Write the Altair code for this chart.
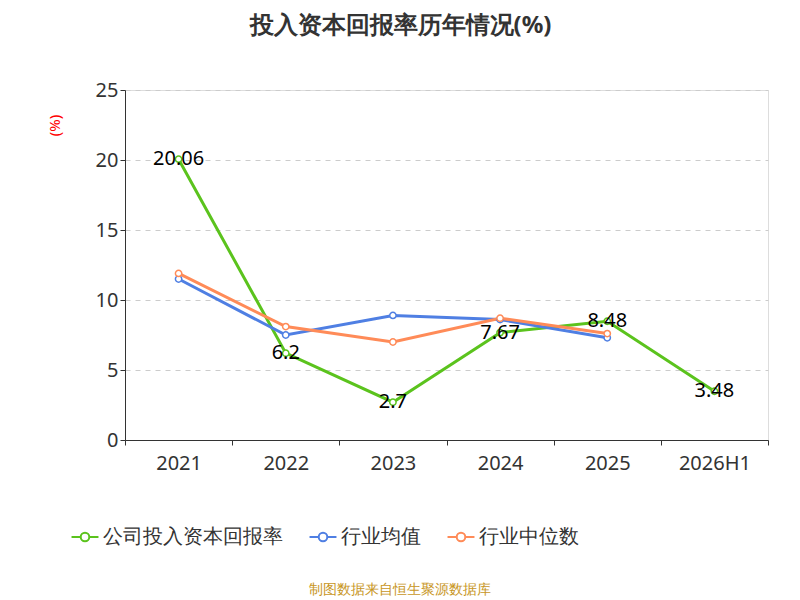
import altair as alt
import pandas as pd

years = ["2021", "2022", "2023", "2024", "2025", "2026H1"]
company = [20.06, 6.2, 2.7, 7.67, 8.48, 3.48]
industry_avg = [11.5, 7.5, 8.9, 8.6, 7.3]
industry_median = [11.9, 8.1, 7.0, 8.7, 7.6]
series_names = ["公司投入资本回报率", "行业均值", "行业中位数"]
colors = ["#5bc31d", "#4f7fe3", "#ff8b58"]

rows = []
for y, v in zip(years, company):
    rows.append({"year": y, "value": v, "series": series_names[0]})
for y, v in zip(years, industry_avg):
    rows.append({"year": y, "value": v, "series": series_names[1]})
for y, v in zip(years, industry_median):
    rows.append({"year": y, "value": v, "series": series_names[2]})
df = pd.DataFrame(rows)

legend_sym = "M-2.2,0L-0.7,0M0.7,0L2.2,0M0.7,0A0.7,0.7 0 1 1 -0.7,0A0.7,0.7 0 1 1 0.7,0"

x = alt.X("year:N", sort=years, title=None,
          scale=alt.Scale(type="band", paddingInner=0, paddingOuter=0),
          axis=alt.Axis(labelFontSize=20, labelColor="#333", labelAngle=0, tickBand="extent",
                        domainColor="#333", tickColor="#333", labelPadding=8))
y = alt.Y("value:Q", title="(%)",
          scale=alt.Scale(domain=[0, 25], nice=False),
          axis=alt.Axis(values=[0, 5, 10, 15, 20, 25], labelFontSize=20, labelColor="#333",
                        gridDash=[5, 5], gridColor="#ccc", domainColor="#333", tickColor="#333",
                        titleColor="red", titleFontSize=15, titleFontWeight="normal",
                        titleX=-63, titleY=35))
color = alt.Color("series:N", sort=series_names,
                  scale=alt.Scale(domain=series_names, range=colors),
                  legend=alt.Legend(orient="none", legendX=-50, legendY=437, direction="horizontal",
                                    title=None, labelFontSize=20, labelColor="#333", labelLimit=0,
                                    symbolType=legend_sym, symbolSize=150, symbolStrokeWidth=2,
                                    symbolFillColor="white", columnPadding=22, labelOffset=8))

base = alt.Chart(df).encode(x=x, y=y, color=color)
lines = base.mark_line(strokeWidth=3)
points = base.mark_point(shape="circle", filled=False, fill="white", fillOpacity=1,
                         size=40, strokeWidth=1.5, opacity=1)
labels = alt.Chart(df[df.series == series_names[0]]).mark_text(fontSize=20, color="black").encode(
    x=alt.X("year:N", sort=years), y="value:Q", text="value:Q")
source = alt.Chart(pd.DataFrame({"t": ["制图数据来自恒生聚源数据库"]})).mark_text(
    fontSize=14, color="#c8961e").encode(x=alt.value(275), y=alt.value(500), text="t:N")

chart = alt.layer(lines, points, labels, source).properties(
    width=643, height=350,
    autosize=alt.AutoSizeParams(type="none"),
    padding={"left": 117, "top": 82, "right": 24, "bottom": 160},
    title=alt.TitleParams("投入资本回报率历年情况(%)", fontSize=24, fontWeight="bold",
                          color="#333", dx=-46, offset=42),
).configure_view(stroke=None).configure(font="Noto Sans")

chart.save("out.html", embed_options={"renderer": "svg", "actions": False})
